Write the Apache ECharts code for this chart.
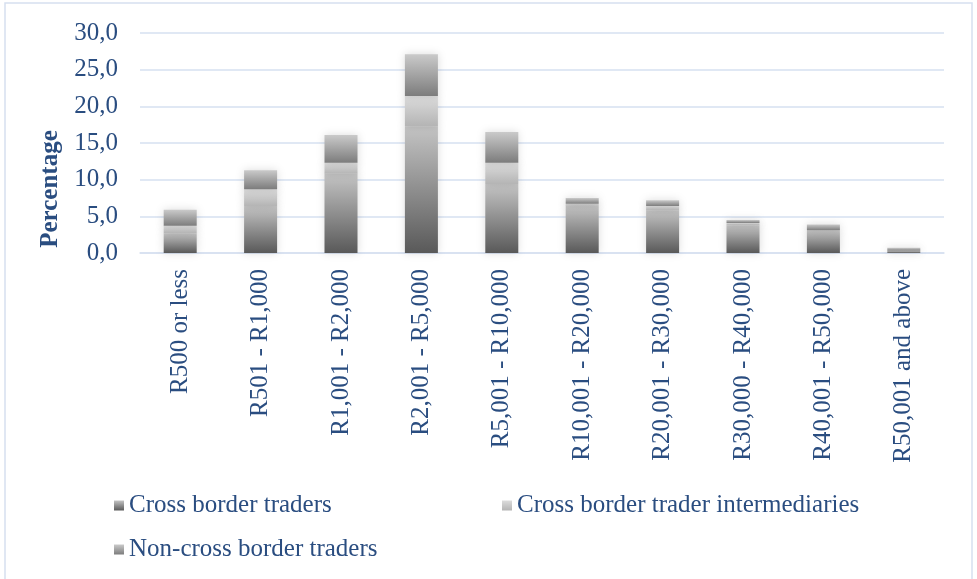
<!DOCTYPE html>
<html>
<head>
<meta charset="utf-8">
<script src="https://cdn.jsdelivr.net/npm/echarts@6/dist/echarts.min.js"></script>
<style>
  html, body { margin: 0; padding: 0; background: #fff; }
  #chart { width: 977px; height: 579px; }
</style>
</head>
<body>
<div id="chart"></div>
<script>
const categories = [
  'R500 or less', 'R501 - R1,000', 'R1,001 - R2,000', 'R2,001 - R5,000', 'R5,001 - R10,000',
  'R10,001 - R20,000', 'R20,001 - R30,000', 'R30,000 - R40,000', 'R40,001 - R50,000', 'R50,001 and above'
];
const crossBorder = [2.7, 6.4, 10.8, 17.3, 9.4, 6.5, 5.8, 3.8, 3.1, 0.3];
const intermediaries = [1.0, 2.3, 1.5, 4.1, 2.9, 0.2, 0.6, 0.3, 0.0, 0.0];
const nonCross = [2.2, 2.6, 3.8, 5.7, 4.2, 0.8, 0.8, 0.4, 0.8, 0.4];
const yTicks = { min: 0, max: 30, interval: 5 };

const textBlue = '#2a4d80';
const gridBlue = '#d6e0f0';
const font = '"Liberation Serif", "DejaVu Serif", serif';

const grad = (top, bottom) => new echarts.graphic.LinearGradient(0, 0, 0, 1, [
  { offset: 0, color: top },
  { offset: 1, color: bottom }
]);

const makeSeries = (name, data, top, bottom) => ({
  name,
  type: 'bar',
  stack: 'total',
  data,
  barWidth: 33,
  itemStyle: {
    color: grad(top, bottom),
    shadowBlur: 8,
    shadowColor: 'rgba(0,0,0,0.14)'
  }
});

const chart = echarts.init(document.getElementById('chart'));

const legendBase = {
  itemWidth: 10,
  itemHeight: 10,
  icon: 'rect',
  textStyle: { color: textBlue, fontSize: 25, fontFamily: font }
};

chart.setOption({
  animation: false,
  graphic: [{
    type: 'rect',
    shape: { x: 5, y: 3, width: 967, height: 600 },
    style: { fill: 'none', stroke: gridBlue, lineWidth: 1.5 },
    silent: true
  }],
  grid: { left: 140, right: 33, top: 33, bottom: 326 },
  legend: [
    Object.assign({ data: ['Cross border traders'], left: 109, top: 488 }, legendBase),
    Object.assign({ data: ['Cross border trader intermediaries'], left: 497, top: 488 }, legendBase),
    Object.assign({ data: ['Non-cross border traders'], left: 109, top: 532 }, legendBase)
  ],
  xAxis: {
    type: 'category',
    data: categories,
    axisLine: { show: true, lineStyle: { color: gridBlue, width: 1.5 } },
    axisTick: { show: false },
    axisLabel: {
      rotate: 90,
      margin: 16,
      interval: 0,
      color: textBlue,
      fontSize: 25,
      fontFamily: font
    }
  },
  yAxis: {
    type: 'value',
    min: yTicks.min,
    max: yTicks.max,
    interval: yTicks.interval,
    name: 'Percentage',
    nameLocation: 'middle',
    nameGap: 76,
    nameRotate: 90,
    nameTextStyle: {
      color: textBlue,
      fontSize: 25,
      fontWeight: 'bold',
      fontFamily: font,
      padding: [0, 92, 0, 0]
    },
    axisLine: { show: false },
    axisTick: { show: false },
    axisLabel: {
      margin: 22,
      color: textBlue,
      fontSize: 25,
      fontFamily: font,
      formatter: (v) => v.toFixed(1).replace('.', ',')
    },
    splitLine: { lineStyle: { color: gridBlue, width: 1.5 } }
  },
  series: [
    makeSeries('Cross border traders', crossBorder, '#c4c4c4', '#595959'),
    makeSeries('Cross border trader intermediaries', intermediaries, '#dcdcdc', '#b4b4b4'),
    makeSeries('Non-cross border traders', nonCross, '#cacaca', '#7c7c7c')
  ]
});
</script>
</body>
</html>
